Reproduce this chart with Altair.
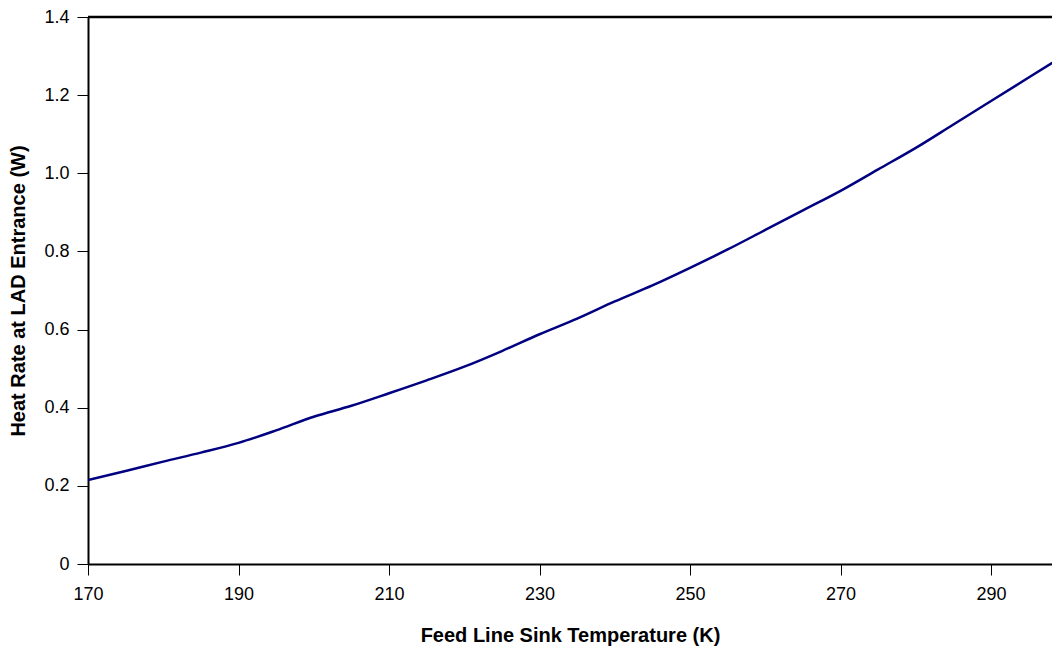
import altair as alt
import pandas as pd

temps = [170, 175, 180, 185, 190, 195, 200, 205, 210, 215, 220, 225, 230,
         235, 240, 245, 250, 255, 260, 265, 270, 275, 280, 285, 290, 295, 300]
heat = [0.215, 0.238, 0.262, 0.285, 0.310, 0.342, 0.377, 0.405, 0.437, 0.470,
        0.505, 0.545, 0.588, 0.628, 0.672, 0.713, 0.758, 0.805, 0.855, 0.905,
        0.955, 1.010, 1.065, 1.125, 1.185, 1.245, 1.305]
x_ticks = [170, 190, 210, 230, 250, 270, 290]
y_ticks = [0, 0.2, 0.4, 0.6, 0.8, 1.0, 1.2, 1.4]
y_top = [1.4]

df = pd.DataFrame({"T": temps, "Q": heat})
top_df = pd.DataFrame({"top": y_top})

font = "Liberation Sans"

x_scale = alt.Scale(domain=[170, 298.1], nice=False, zero=False)
y_scale = alt.Scale(domain=[0, 1.4], nice=False)

line = alt.Chart(df).mark_line(color="#000080", strokeWidth=2.5, clip=True,
                               interpolate="monotone").encode(
    x=alt.X("T:Q", scale=x_scale,
            axis=alt.Axis(values=x_ticks, title="Feed Line Sink Temperature (K)",
                          grid=False, domainColor="black", domainWidth=2,
                          tickColor="black", tickSize=11, tickWidth=1,
                          labelFlush=False,
                          labelFont=font, labelFontSize=18, labelColor="black",
                          labelPadding=10, titleFont=font, titleFontSize=20,
                          titleFontWeight="bold", titleColor="black", titlePadding=22)),
    y=alt.Y("Q:Q", scale=y_scale,
            axis=alt.Axis(values=y_ticks, title="Heat Rate at LAD Entrance (W)",
                          labelExpr="datum.value == 0 ? '0' : format(datum.value, '.1f')",
                          grid=False, domainColor="black", domainWidth=2,
                          tickColor="black", tickSize=11, tickWidth=1,
                          labelFlush=False,
                          labelFont=font, labelFontSize=18, labelColor="black",
                          labelPadding=8, titleFont=font, titleFontSize=20,
                          titleFontWeight="bold", titleColor="black", titlePadding=15)),
)

top_border = alt.Chart(top_df).mark_rule(color="black", strokeWidth=2.5).encode(
    y=alt.Y("top:Q", scale=y_scale)
)

chart = alt.layer(line, top_border).properties(
    width=964, height=547,
    autosize=alt.AutoSizeParams(type="none"),
    padding={"left": 80, "top": 9, "right": 0, "bottom": 85},
).configure_view(stroke=None)

chart.save("out.html", embed_options={"renderer": "svg", "actions": False})
